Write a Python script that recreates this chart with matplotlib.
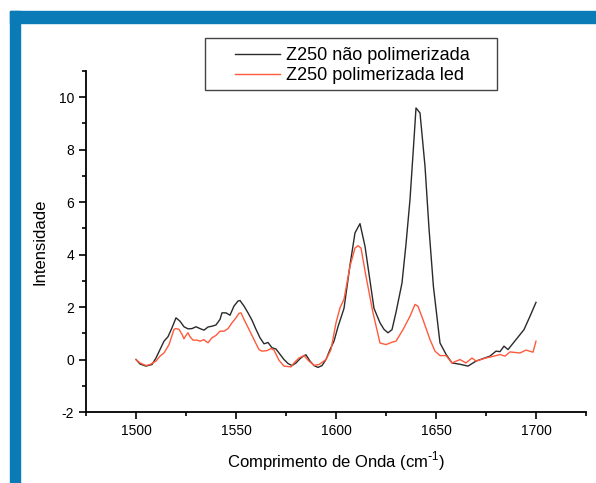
import numpy as np
import matplotlib.pyplot as plt
from matplotlib.patches import Rectangle
from matplotlib.ticker import MultipleLocator

plt.rcParams['font.family'] = ['Liberation Sans', 'DejaVu Sans']
plt.rcParams['axes.unicode_minus'] = False

# Z250 nao polimerizada (black)
x_np = [1500, 1502, 1505, 1508, 1510, 1512, 1514, 1516, 1518, 1520, 1522, 1524,
        1526, 1528, 1530, 1532, 1534, 1536, 1538, 1540, 1542, 1543, 1545, 1547,
        1549, 1551, 1552, 1554, 1556, 1558, 1560, 1562, 1564, 1566, 1568, 1570,
        1572, 1574, 1576, 1578, 1580, 1582, 1584, 1585, 1587, 1589, 1591, 1593,
        1595, 1597, 1599, 1601, 1604, 1607, 1609.5, 1612, 1614.5, 1617, 1619,
        1622, 1624, 1626, 1628, 1630, 1633, 1635, 1637, 1639, 1640, 1642, 1644.5,
        1646.5, 1648.7, 1652, 1655, 1658, 1662, 1666, 1670, 1674, 1677, 1680,
        1682, 1684, 1686, 1690, 1694, 1697, 1700]
y_np = [0.0, -0.17, -0.25, -0.19, 0.06, 0.38, 0.70, 0.87, 1.21, 1.59, 1.46, 1.25,
        1.17, 1.18, 1.25, 1.18, 1.12, 1.24, 1.27, 1.32, 1.53, 1.78, 1.78, 1.69,
        2.04, 2.23, 2.25, 2.04, 1.78, 1.50, 1.15, 0.83, 0.60, 0.65, 0.45, 0.40,
        0.20, 0.0, -0.15, -0.23, -0.13, 0.03, 0.15, 0.18, -0.06, -0.23, -0.30, -0.23,
        0.0, 0.38, 0.70, 1.25, 1.95, 3.6, 4.83, 5.18, 4.32, 3.0, 1.95,
        1.40, 1.15, 1.02, 1.14, 1.8, 2.92, 4.4, 6.1, 8.4, 9.59, 9.40, 7.37,
        5.0, 2.79, 0.63, 0.2, -0.13, -0.18, -0.25, -0.06, 0.05, 0.13, 0.32,
        0.30, 0.51, 0.38, 0.76, 1.14, 1.65, 2.18]

# Z250 polimerizada led (red)
x_led = [1500, 1502, 1505, 1507, 1510, 1512, 1514, 1516.5, 1519, 1520, 1521.5,
         1523, 1524, 1525, 1526, 1527, 1528.5, 1530.5, 1532, 1534, 1535, 1536,
         1538, 1540, 1542, 1544, 1546, 1548, 1550, 1551.5, 1552.5, 1554, 1556.5,
         1559, 1561.5, 1563, 1565.5, 1567.5, 1569, 1571.5, 1574, 1577.5, 1579,
         1581.5, 1584, 1586.5, 1589, 1591.5, 1595, 1597.5, 1600, 1602, 1604, 1607,
         1609.5, 1611, 1612.5, 1615, 1618.5, 1622, 1625, 1628, 1630, 1633.5, 1637,
         1639.5, 1641, 1643.5, 1647, 1649.5, 1652, 1655, 1658, 1662, 1665, 1668,
         1670, 1675, 1679, 1682, 1684.5, 1687, 1692, 1695, 1698.5, 1700]
y_led = [0.0, -0.13, -0.23, -0.19, -0.06, 0.13, 0.25, 0.57, 1.15, 1.18, 1.15,
         0.96, 0.79, 0.92, 1.02, 0.87, 0.74, 0.74, 0.70, 0.76, 0.69, 0.64,
         0.83, 0.92, 1.08, 1.08, 1.18, 1.40, 1.59, 1.76, 1.78, 1.53, 1.15,
         0.76, 0.38, 0.32, 0.34, 0.42, 0.36, -0.03, -0.25, -0.28, -0.13,
         0.06, 0.15, -0.06, -0.22, -0.19, 0.0, 0.38, 1.4, 1.97, 2.3, 3.56,
         4.25, 4.34, 4.25, 3.17, 1.78, 0.63, 0.57, 0.66, 0.70, 1.14, 1.65,
         2.10, 2.03, 1.52, 0.76, 0.32, 0.15, 0.15, -0.13, 0.0, -0.13, 0.06,
         -0.06, 0.06, 0.13, 0.19, 0.13, 0.29, 0.25, 0.36, 0.28, 0.70]

labels = ['Z250 não polimerizada', 'Z250 polimerizada led']

W, H = 596, 483
fig = plt.figure(figsize=(W / 100, H / 100), dpi=100)

# blue frame on top and left
blue = '#0b7bb8'
fig.patches.append(Rectangle((10 / W, 1 - 23 / H), 1, 12 / H,
                             transform=fig.transFigure, color=blue, zorder=0))
fig.patches.append(Rectangle((10 / W, 0), 10 / W, 1 - 11 / H,
                             transform=fig.transFigure, color=blue, zorder=0))

ax = fig.add_axes([86 / W, 1 - 412 / H, 500 / W, 341 / H])
ax.patch.set_alpha(0)

l1, = ax.plot(x_np, y_np, color='#2a2a2a', lw=1.0, label=labels[0])
l2, = ax.plot(x_led, y_led, color='#ff5a3c', lw=1.0, label=labels[1])

ax.set_xlim(1475, 1725)
ax.set_ylim(-2, 11)
ax.xaxis.set_major_locator(MultipleLocator(50))
ax.xaxis.set_minor_locator(MultipleLocator(25))
ax.yaxis.set_major_locator(MultipleLocator(2))
ax.yaxis.set_minor_locator(MultipleLocator(1))
ax.tick_params(which='major', direction='out', length=5, width=1.2, labelsize=10)
ax.tick_params(which='minor', direction='out', length=3, width=1.2)
for s in ['top', 'right']:
    ax.spines[s].set_visible(False)
for s in ['left', 'bottom']:
    ax.spines[s].set_linewidth(1.3)

ax.set_xlabel('Comprimento de Onda (cm$^{\\mathregular{\\text{-}1}}$)', fontsize=12, labelpad=8)
ax.set_ylabel('Intensidade', fontsize=12, labelpad=8)

# legend frame drawn separately (wide padding as in the original)
fig.patches.append(Rectangle((205 / W, 1 - 90 / H), 292 / W, 52 / H,
                             transform=fig.transFigure, fill=False,
                             edgecolor='#444444', lw=1.0, zorder=3))
fig.legend(handles=[l1, l2], loc='upper left',
           bbox_to_anchor=(235 / W, 1 - 47 / H), borderaxespad=0, borderpad=0,
           fontsize=13, frameon=False, handlelength=2.5,
           labelspacing=0.17, handletextpad=0.3)

fig.savefig('out.png', dpi=100)
